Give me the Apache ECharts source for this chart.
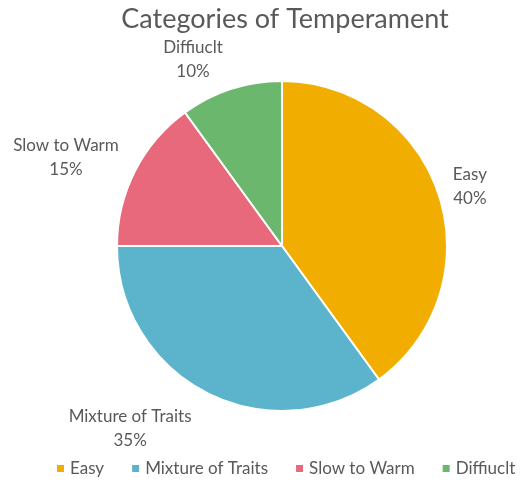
<!DOCTYPE html>
<html>
<head>
<meta charset="utf-8">
<script src="https://cdn.jsdelivr.net/npm/echarts@6/dist/echarts.min.js"></script>
<style>
  html, body { margin: 0; padding: 0; background: #fff; }
  #chart { width: 520px; height: 483px; }
</style>
</head>
<body>
<div id="chart"></div>
<script>
var categories = ['Easy', 'Mixture of Traits', 'Slow to Warm', 'Diffiuclt']
var shares = [40, 35, 15, 10]
var colors = ['#F2AE00', '#5BB4CC', '#E8697B', '#6CB76E']

// nudges so the labels sit where the original ones do
var labelShift = [[26, -8], [-72, 35], [-64, -14], [-33, -30]]

var chart = echarts.init(document.getElementById('chart'))
var font = 'Lato, "Open Sans", sans-serif'

var option = {
  title: {
    text: 'Categories of Temperament',
    left: 280,
    textAlign: 'center',
    top: 1,
    textStyle: { fontFamily: font, fontSize: 27, fontWeight: 'normal', color: '#595959' }
  },
  color: colors,
  legend: {
    bottom: 1,
    left: 50,
    width: 470,
    itemWidth: 9,
    itemHeight: 9,
    itemGap: 26,
    icon: 'rect',
    data: categories,
    textStyle: { fontFamily: font, fontSize: 17, color: '#595959' }
  },
  series: [
    {
      type: 'pie',
      center: [282, 246],
      radius: 165,
      startAngle: 90,
      data: categories.map(function (c, i) {
        return { name: c, value: shares[i] }
      }),
      itemStyle: { borderColor: '#fff', borderWidth: 2 },
      label: {
        position: 'outside',
        formatter: '{b}\n{c}%',
        fontFamily: font,
        fontSize: 17,
        lineHeight: 24,
        color: '#595959'
      },
      labelLine: { show: false, length: 0, length2: 0 },
      labelLayout: function (params) {
        var s = labelShift[params.dataIndex]
        return { dx: s[0], dy: s[1], align: 'center' }
      }
    }
  ]
}
chart.setOption(option)
</script>
</body>
</html>
